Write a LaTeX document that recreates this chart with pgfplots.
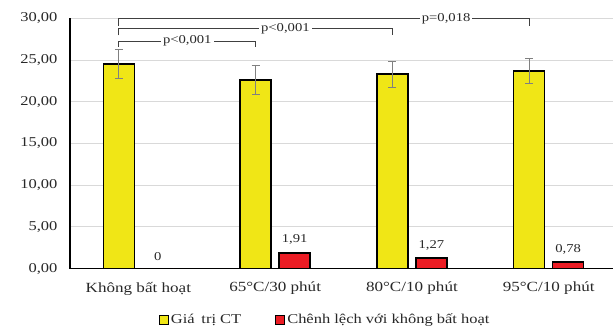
\documentclass[border=0pt]{standalone}
\usepackage{pgfplots}
\pgfplotsset{compat=1.18}
\usepackage{fontspec}
\setmainfont[FakeStretch=1.22]{Liberation Serif}
\definecolor{cyel}{RGB}{240,230,22}
\definecolor{cred}{RGB}{236,28,36}
\definecolor{ctxt}{RGB}{40,40,40}
\newcommand\fs{\fontsize{13.5}{16}\selectfont}
\newcommand\fc{\fontsize{14}{16}\selectfont}
\newcommand\fp{\fontsize{12}{14}\selectfont}
\pgfplotstableread{
x y e
-0.1425 24.5 1.75
0.8575 22.6 1.70
1.8575 23.3 1.55
2.8575 23.7 1.50
}\ct
\pgfplotstableread{
x y lab
0.1425 0 0
1.1425 1.91 1,91
2.1425 1.27 1,27
3.1425 0.78 0,78
}\diff
\begin{document}
\begin{tikzpicture}
\begin{axis}[
 at={(0pt,0pt)}, anchor=south west,
 scale only axis, width=543pt, height=250.4pt,
 xmin=-0.5, xmax=3.47, ymin=0, ymax=30,
 clip=false,
 ytick={0,5,...,30},
 xtick={0,1,2,3},
 xticklabels={Không bất hoạt, 65°C/30 phút, 80°C/10 phút, 95°C/10 phút},
 axis x line*=bottom, axis y line*=left,
 axis line style={black, line width=1.6pt, -},
 ymajorgrids, grid style={black!15, line width=1pt},
 major tick length=0pt,
 /pgf/number format/.cd, fixed, fixed zerofill, precision=2, use comma, assume math mode=true,
 /pgfplots/.cd,
 tick label style={font=\fs, text=ctxt},
 yticklabel style={xshift=-9pt},
 xticklabel style={yshift=-10pt, font=\fc},
 legend style={at={(0.47,-0.204)}, anchor=center, draw=none, font=\fs, text=ctxt,
   legend columns=2, /tikz/every even column/.append style={column sep=32pt}},
 legend cell align=left,
]
\addplot[ybar, bar width=31pt, bar shift=0pt, fill=cyel, draw=black, line width=1.5pt,
  legend image code/.code={\draw[fill=cyel, draw=black, line width=1pt] (0pt,-4.5pt) rectangle (9pt,4.5pt);},
  error bars/.cd, y dir=both, y explicit,
  error bar style={line width=1pt, color=black!50},
  error mark options={rotate=90, mark size=4pt, line width=1pt, color=black!50}]
  table[x=x, y=y, y error=e] {\ct};
\addlegendentry{Giá\hspace{0.5em}trị CT}
\addplot[ybar, bar width=31pt, bar shift=0pt, fill=cred, draw=black, line width=1.5pt,
  legend image code/.code={\draw[fill=cred, draw=black, line width=1pt] (0pt,-4.5pt) rectangle (9pt,4.5pt);},
  nodes near coords, point meta=explicit symbolic,
  nodes near coords style={font=\fp, text=ctxt, yshift=4pt}]
  table[x=x, y=y, meta=lab] {\diff};
\addlegendentry{Chênh lệch với không bất hoạt}
\draw[line width=1.1pt, black!75] (axis cs:-0.1425,26.6) |- (axis cs:0.8575,27.27) -- (axis cs:0.8575,26.6);
\node[fill=white, inner sep=2pt, font=\fp, text=ctxt] at (axis cs:0.3575,27.27) {p<0,001};
\draw[line width=1.1pt, black!75] (axis cs:-0.1425,27.94) |- (axis cs:1.8575,28.8) -- (axis cs:1.8575,27.94);
\node[fill=white, inner sep=2pt, font=\fp, text=ctxt] at (axis cs:1.075,28.8) {p<0,001};
\draw[line width=1.1pt, black!75] (axis cs:-0.1425,29.1) |- (axis cs:2.8575,30) -- (axis cs:2.8575,29.1);
\node[fill=white, inner sep=2pt, font=\fp, text=ctxt] at (axis cs:2.25,30) {p=0,018};
\end{axis}
\pgfresetboundingbox
\path[use as bounding box] (-70pt,-59.3pt) rectangle (543pt,268.7pt);
\end{tikzpicture}
\end{document}
